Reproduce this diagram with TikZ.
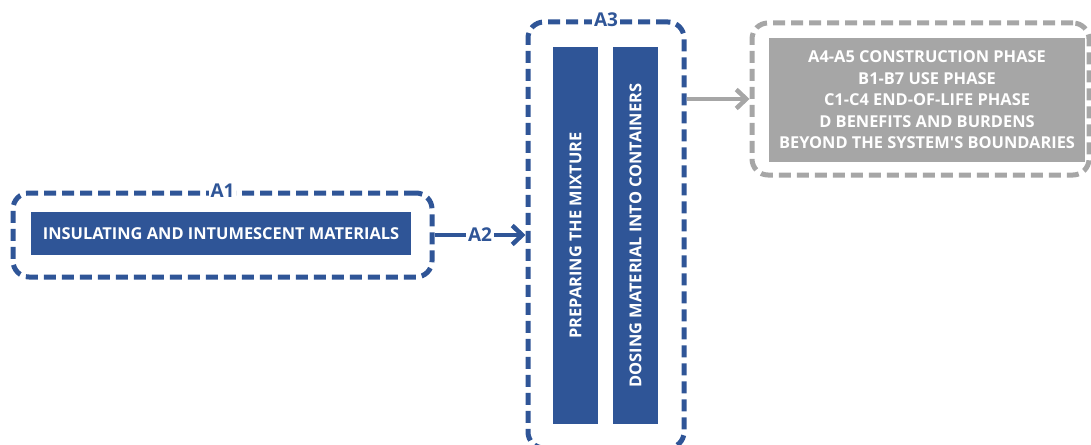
\documentclass[tikz,border=0pt]{standalone}
\usepackage{fontspec}
\setmainfont{Open Sans}[Ligatures=TeXOff]
\usetikzlibrary{arrows.meta}

\definecolor{stageblue}{HTML}{2F5597}
\definecolor{stagegray}{HTML}{A6A6A6}

\tikzset{
  boundary/.style={draw=#1, line width=5pt, dash pattern=on 12pt off 6pt, rounded corners=16pt, inner sep=0pt},
  stagebox/.style={fill=#1, text=white, inner sep=0pt, font=\fontsize{16.4}{21.5}\selectfont\bfseries, align=center},
  tag/.style={fill=white, text=stageblue, inner sep=2pt, font=\fontsize{19}{20}\selectfont\bfseries},
  flow/.style={line width=4.5pt, -{Straight Barb[length=10pt, width=19pt]}}
}

\begin{document}
\begin{tikzpicture}[x=1pt,y=-1pt]
    \useasboundingbox (0,0) rectangle (1091,444);
    % product stage A1
    \node[boundary=stageblue, minimum width=419pt, minimum height=84pt] (a1) at (222.5,235) {};
    \node[stagebox=stageblue, minimum width=380pt, minimum height=43pt] (materials) at (221,233.5) {INSULATING AND INTUMESCENT MATERIALS};
    \node[tag] at (a1.north) {A1};
    % manufacturing A3
    \node[boundary=stageblue, minimum width=156pt, minimum height=426pt] (a3) at (606,235) {};
    \node[stagebox=stageblue, minimum width=377pt, minimum height=45pt, rotate=90] (mixture) at (575.5,235.5) {PREPARING THE MIXTURE};
    \node[stagebox=stageblue, minimum width=377pt, minimum height=45pt, rotate=90] (dosing) at (635.5,235.5) {DOSING MATERIAL INTO CONTAINERS};
    \node[tag] at (a3.north) {A3};
    % further stages
    \node[boundary=stagegray, minimum width=337pt, minimum height=152pt] (later) at (920.5,99) {};
    \node[stagebox=stagegray, minimum width=316pt, minimum height=124pt] (phases) at (927,100) {A4-A5 CONSTRUCTION PHASE\\B1-B7 USE PHASE\\C1-C4 END-OF-LIFE PHASE\\D BENEFITS AND BURDENS\\BEYOND THE SYSTEM'S BOUNDARIES};
    % connectors
    \draw[flow, stageblue] (a1) -- node[tag] {A2} (a3);
    \draw[flow, stagegray] (later.west -| a3.east) -- (later.west);
\end{tikzpicture}
\end{document}
